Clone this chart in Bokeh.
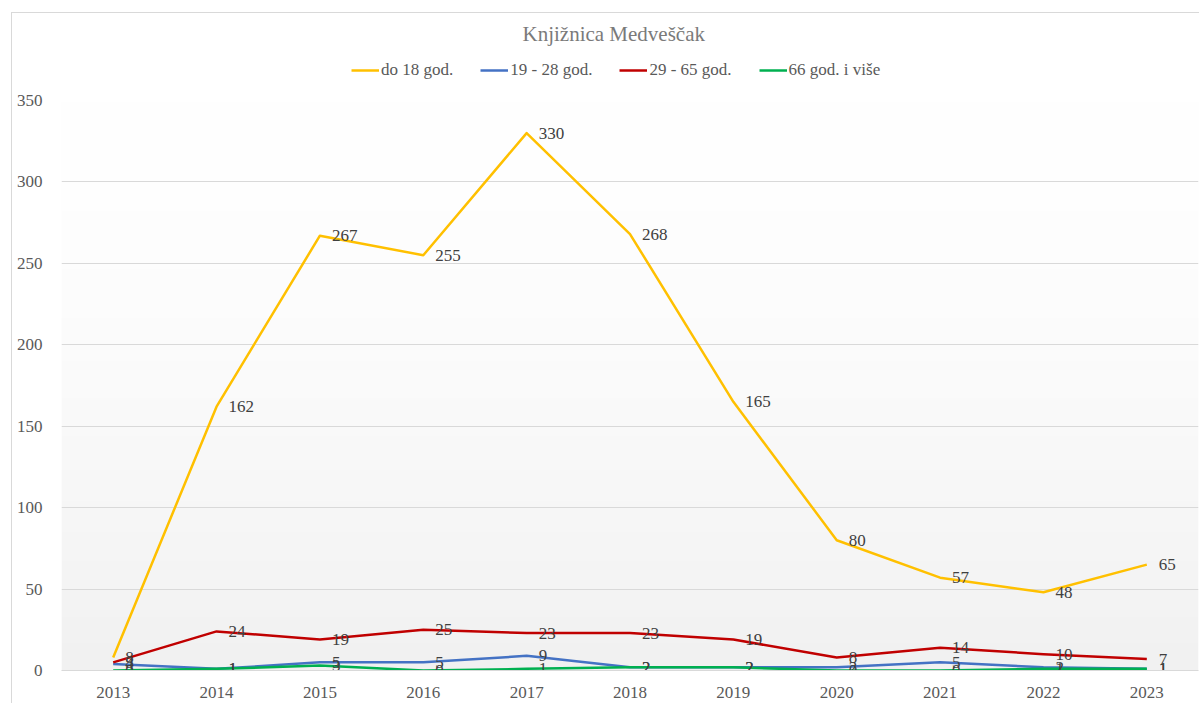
import numpy as np
from bokeh.plotting import figure
from bokeh.layouts import column
from bokeh.models import (Legend, LegendItem, Label, FixedTicker, Range1d, ColumnDataSource)
from bokeh.core.properties import value
from bokeh.embed import file_html
from bokeh.resources import INLINE

years = ["2013", "2014", "2015", "2016", "2017", "2018", "2019", "2020", "2021", "2022", "2023"]
do_18 = [8, 162, 267, 255, 330, 268, 165, 80, 57, 48, 65]
g19_28 = [4, 1, 5, 5, 9, 2, 2, 2, 5, 2, 1]
g29_65 = [5, 24, 19, 25, 23, 23, 19, 8, 14, 10, 7]
g66 = [0, 1, 3, 0, 1, 2, 2, 0, 0, 1, 1]
series_names = ["do 18 god.", "19 - 28 god.", "29 - 65 god.", "66 god. i više"]
series_values = [do_18, g19_28, g29_65, g66]
series_colors = ["#FFC000", "#4472C4", "#C00000", "#00B050"]
y_ticks = [0, 50, 100, 150, 200, 250, 300, 350]
title_text = "Knjižnica Medveščak"

FONT = "Liberation Serif"
BORDER = "1px solid #d9d9d9"
idx = list(range(len(years)))

# ---------- header: title + legend ----------
hdr = figure(width=1188, height=80, output_backend="svg", toolbar_location=None,
             x_range=Range1d(0, 1188), y_range=Range1d(0, 80),
             min_border=0, min_border_left=0, min_border_right=0,
             min_border_top=0, min_border_bottom=0)
hdr.title = None
hdr.axis.visible = False
hdr.grid.visible = False
hdr.outline_line_color = None
hdr.background_fill_color = "white"
hdr.border_fill_color = "white"
hdr.styles = {"border-left": BORDER, "border-top": BORDER}

items = []
for name, col in zip(series_names, series_colors):
    # legend proxy: a single NaN point, draws nothing in the header
    r = hdr.line(x=[np.nan], y=[np.nan], line_color=col, line_width=2.5)
    items.append(LegendItem(label=name, renderers=[r]))

legend = Legend(items=items, orientation="horizontal", location=(290, 13),
                label_text_font=FONT, label_text_font_size="17px",
                label_text_color="#595959", glyph_width=28, glyph_height=20,
                label_height=20, label_standoff=2,
                spacing=27, border_line_color=None, background_fill_alpha=0,
                margin=0, padding=0)
hdr.add_layout(legend, "center")
hdr.add_layout(Label(x=577, y=60, text=title_text,
                     text_align="center", text_baseline="middle", text_font=FONT,
                     text_font_size="21px", text_color="#7a7a7a"))

# ---------- main chart ----------
p = figure(width=1188, height=611, output_backend="svg", toolbar_location=None,
           x_range=Range1d(-0.5, len(years) - 0.5), y_range=Range1d(0, 350),
           min_border_left=49, min_border_right=2, min_border_bottom=33, min_border_top=8)
p.title = None
p.outline_line_color = None
p.background_fill_color = "white"
p.border_fill_color = "white"
p.styles = {"border-left": BORDER}

# smooth vertical gradient of plot area (decoration)
n = 256
t = np.linspace(0, 1, n)
shade = 255 - 14 * (1 - t) ** 1.6
img = np.zeros((n, 1), dtype=np.uint32)
view = img.view(dtype=np.uint8).reshape((n, 1, 4))
view[:, 0, 0] = shade.astype(np.uint8)
view[:, 0, 1] = shade.astype(np.uint8)
view[:, 0, 2] = shade.astype(np.uint8)
view[:, 0, 3] = 255
p.image_rgba(image=[img], x=-0.5, y=0, dw=len(years), dh=350, level="image")

p.xgrid.grid_line_color = None
p.ygrid.grid_line_color = "#d9d9d9"
p.ygrid.grid_line_width = 1
p.ygrid.ticker = FixedTicker(ticks=y_ticks)

p.yaxis.ticker = FixedTicker(ticks=y_ticks)
p.yaxis.axis_line_color = None
p.yaxis.major_tick_line_color = None
p.yaxis.minor_tick_line_color = None
p.yaxis.major_label_text_font = FONT
p.yaxis.major_label_text_font_size = "17px"
p.yaxis.major_label_text_color = "#595959"
p.yaxis.major_label_standoff = 13

p.xaxis.ticker = FixedTicker(ticks=idx)
p.xaxis.major_label_overrides = {i: y for i, y in zip(idx, years)}
p.xaxis.axis_line_color = "#d9d9d9"
p.xaxis.major_tick_line_color = None
p.xaxis.minor_tick_line_color = None
p.xaxis.major_label_text_font = FONT
p.xaxis.major_label_text_font_size = "17px"
p.xaxis.major_label_text_color = "#595959"
p.xaxis.major_label_standoff = 10

for name, vals, col in zip(series_names, series_values, series_colors):
    src = ColumnDataSource(dict(x=idx, y=vals))
    p.line("x", "y", source=src, line_color=col, line_width=2.5, line_join="round")

for name, vals, col in zip(series_names, series_values, series_colors):
    src = ColumnDataSource(dict(x=idx, y=vals, t=[str(v) for v in vals]))
    p.text("x", "y", text="t", source=src, x_offset=12, text_baseline="middle",
           text_align="left", text_font=value(FONT), text_font_size="17px",
           text_color="#404040")

layout = column(hdr, p, spacing=0)
layout.margin = (12, 0, 0, 11)

open("out.html", "w").write(file_html(layout, INLINE))
